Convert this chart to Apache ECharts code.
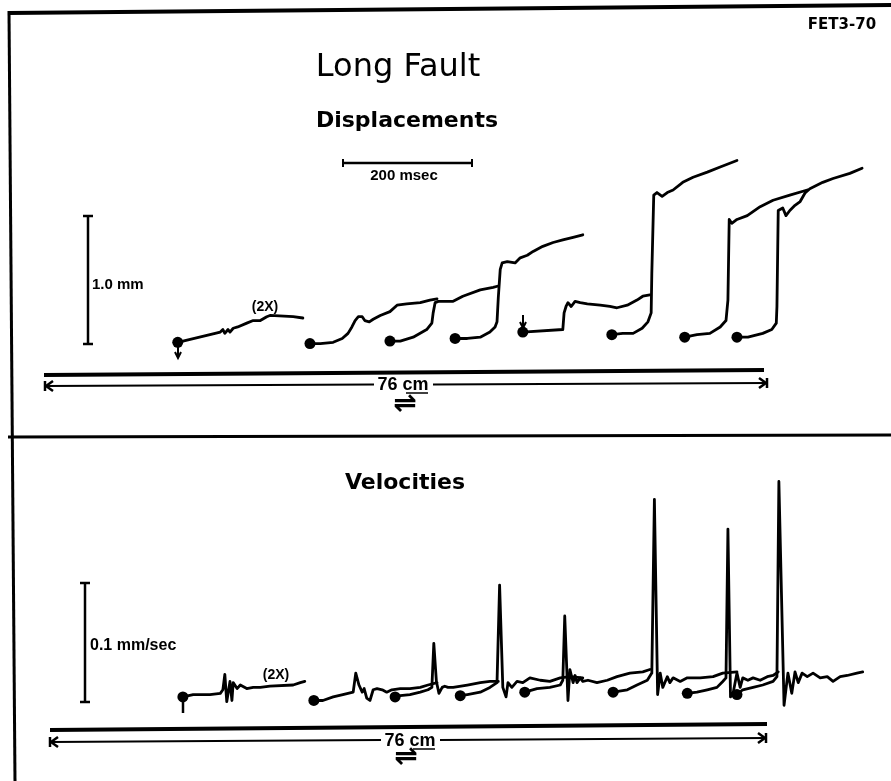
<!DOCTYPE html>
<html>
<head>
    <meta charset="utf-8">
    <title>Long Fault</title>
    <script src="https://cdn.jsdelivr.net/npm/echarts@6/dist/echarts.min.js"></script>
    <style>
        html, body { margin: 0; padding: 0; background: #fff; }
        #chart { width: 891px; height: 781px; }
    </style>
</head>
<body>
<div id="chart"></div>
<script>
    // displacement traces: [time msec, displacement mm]
    var disp1 = [[12,0.06],[78,0.14],[82,0.16],[85,0.13],[90,0.16],[93,0.14],[98,0.17],[105,0.18],[119,0.21],[129,0.23],[140,0.23],[150,0.26],[155,0.27],[191,0.26],[206,0.25]];
    var disp2 = [[217,0.05],[233,0.05],[253,0.06],[267,0.09],[276,0.13],[282,0.18],[287,0.23],[292,0.26],[298,0.26],[302,0.23],[309,0.22],[315,0.24],[326,0.27],[341,0.30],[352,0.35],[367,0.36],[388,0.37],[403,0.39],[414,0.40]];
    var disp3 = [[341,0.07],[357,0.07],[377,0.10],[398,0.16],[406,0.21],[408,0.29],[411,0.37],[416,0.38],[439,0.38],[454,0.42],[481,0.47],[501,0.49],[509,0.50]];
    var disp4 = [[442,0.09],[461,0.09],[481,0.10],[496,0.14],[504,0.18],[507,0.22],[509,0.41],[512,0.63],[515,0.68],[523,0.69],[535,0.68],[543,0.72],[554,0.74],[563,0.77],[578,0.81],[594,0.84],[609,0.86],[625,0.88],[640,0.90]];
    var disp5 = [[547,0.14],[609,0.16],[611,0.29],[614,0.34],[617,0.37],[622,0.34],[628,0.38],[636,0.37],[647,0.36],[667,0.35],[682,0.34],[693,0.33],[709,0.35],[724,0.39],[733,0.42],[744,0.43]];
    var disp6 = [[685,0.12],[702,0.13],[718,0.13],[732,0.17],[741,0.22],[746,0.29],[747,0.60],[750,1.21],[755,1.23],[763,1.20],[771,1.23],[780,1.25],[795,1.31],[811,1.35],[833,1.39],[853,1.43],[879,1.48]];
    var disp7 = [[798,0.10],[817,0.12],[837,0.13],[853,0.18],[862,0.23],[865,0.39],[867,1.02],[871,0.99],[879,1.02],[895,1.05],[915,1.12],[935,1.17],[961,1.21],[988,1.25]];
    var disp8 = [[879,0.10],[896,0.10],[919,0.13],[933,0.16],[940,0.21],[941,0.34],[943,1.09],[950,1.11],[955,1.05],[961,1.09],[969,1.13],[977,1.16],[985,1.23],[992,1.26],[1012,1.31],[1028,1.34],[1054,1.38],[1073,1.42]];

    // velocity traces: [time msec, velocity mm/sec]
    var vel1 = [[20,0.011],[36,0.013],[62,0.013],[78,0.014],[82,0.017],[85,0.030],[88,0.007],[93,0.024],[96,0.008],[98,0.023],[104,0.018],[109,0.021],[119,0.018],[129,0.019],[140,0.019],[155,0.020],[191,0.021],[202,0.023],[209,0.024]];
    var vel2 = [[223,0.008],[237,0.008],[253,0.011],[268,0.013],[284,0.015],[288,0.031],[293,0.021],[298,0.015],[301,0.018],[305,0.010],[310,0.008],[315,0.017],[321,0.018],[329,0.017],[336,0.015],[344,0.017],[357,0.018],[372,0.018],[388,0.019],[400,0.021],[414,0.023]];
    var vel3 = [[349,0.011],[357,0.012],[372,0.013],[388,0.015],[400,0.017],[406,0.019],[409,0.056],[413,0.024],[417,0.014],[422,0.019],[426,0.020],[431,0.019],[439,0.019],[461,0.021],[481,0.023],[496,0.024],[509,0.024]];
    var vel4 = [[450,0.012],[461,0.013],[481,0.015],[496,0.019],[507,0.023],[511,0.105],[516,0.019],[521,0.011],[524,0.023],[530,0.019],[538,0.024],[547,0.023],[558,0.027],[574,0.025],[589,0.024],[605,0.027],[620,0.028],[640,0.027]];
    var vel5 = [[550,0.015],[569,0.018],[589,0.019],[605,0.021],[609,0.025],[612,0.079],[617,0.008],[620,0.034],[625,0.023],[628,0.029],[631,0.023],[636,0.027],[640,0.024],[648,0.025],[662,0.023],[678,0.025],[693,0.028],[713,0.031],[733,0.032],[744,0.034]];
    var vel6 = [[687,0.015],[709,0.017],[724,0.021],[740,0.025],[747,0.031],[751,0.177],[756,0.013],[760,0.031],[764,0.019],[771,0.028],[775,0.023],[780,0.027],[791,0.024],[802,0.027],[822,0.027],[842,0.028],[857,0.031],[879,0.032]];
    var vel7 = [[802,0.014],[817,0.015],[833,0.017],[848,0.019],[857,0.024],[862,0.027],[865,0.152],[869,0.011],[873,0.014],[879,0.031],[884,0.019],[888,0.027],[896,0.025],[904,0.027],[915,0.025],[926,0.028],[935,0.029],[943,0.032]];
    var vel8 = [[879,0.013],[888,0.017],[904,0.019],[919,0.021],[935,0.024],[941,0.028],[944,0.192],[952,0.004],[958,0.031],[964,0.014],[969,0.032],[974,0.023],[980,0.031],[988,0.028],[997,0.031],[1008,0.027],[1019,0.028],[1028,0.024],[1039,0.028],[1050,0.029],[1065,0.031],[1074,0.032]];

    var dispTraces = [disp1, disp2, disp3, disp4, disp5, disp6, disp7, disp8];
    var velTraces = [vel1, vel2, vel3, vel4, vel5, vel6, vel7, vel8];

    var ink = '#000';
    var myChart = echarts.init(document.getElementById('chart'), null, {renderer: 'canvas'});

    function traceSeries(list, idx) {
        var out = [];
        list.forEach(function (trace) {
            out.push({
                type: 'line',
                xAxisIndex: idx,
                yAxisIndex: idx,
                data: trace,
                showSymbol: false,
                clip: false,
                lineStyle: {color: ink, width: 2.8, join: 'round', cap: 'round'}
            });
        });
        // starting dot of every trace
        out.push({
            type: 'scatter',
            xAxisIndex: idx,
            yAxisIndex: idx,
            data: list.map(function (t) { return t[0]; }),
            symbolSize: 11,
            clip: false,
            itemStyle: {color: ink, opacity: 1}
        });
        return out;
    }

    function seg(x1, y1, x2, y2, w) {
        return {type: 'line', shape: {x1: x1, y1: y1, x2: x2, y2: y2}, style: {stroke: ink, lineWidth: w || 2}};
    }
    function poly(pts, w) {
        return {type: 'polyline', shape: {points: pts}, style: {stroke: ink, fill: null, lineWidth: w || 2}};
    }
    function label(txt, x, y, size, weight, family, align) {
        return {
            type: 'text', x: x, y: y,
            style: {
                text: txt, fill: ink, fontSize: size, fontWeight: weight || 'normal',
                fontFamily: family || 'Liberation Sans',
                align: align || 'center', textAlign: align || 'center',
                verticalAlign: 'middle', textVerticalAlign: 'middle'
            }
        };
    }
    // "|<---- 76 cm ---->|" distance marker
    function distance(yL, yR, xL, xR, gapL, gapR) {
        var ym = (yL + yR) / 2;
        return [
            seg(xL, yL, gapL, ym, 2),
            seg(gapR, ym, xR, yR, 2),
            seg(xL, yL - 5, xL, yL + 5, 2.5),
            poly([[xL + 8, yL - 5], [xL + 1, yL], [xL + 8, yL + 5]], 2.5),
            seg(xR, yR - 5, xR, yR + 5, 2.5),
            poly([[xR - 8, yR - 5], [xR - 1, yR], [xR - 8, yR + 5]], 2.5)
        ];
    }

    var graphics = [
        // frame
        seg(8, 13, 891, 5, 4),
        seg(9, 11, 15, 781, 3),
        seg(8, 437, 891, 435, 3),
        label('FET3-70', 842, 25, 15, 'bold', 'DejaVu Sans'),
        label('Long Fault', 398, 68, 32, 'normal', 'DejaVu Sans'),
        label('Displacements', 407, 121, 22, 'bold', 'DejaVu Sans'),
        // 200 msec bar
        seg(343, 163, 472, 163, 2.5),
        seg(343, 159, 343, 167, 2),
        seg(472, 159, 472, 167, 2),
        label('200 msec', 404, 176, 15, 'bold'),
        // 1.0 mm bar
        seg(88, 216, 88, 344, 2.5),
        seg(83, 216, 93, 216, 2.5),
        seg(83, 344, 93, 344, 2.5),
        label('1.0 mm', 92, 285, 15, 'bold', 'Liberation Sans', 'left'),
        label('(2X)', 265, 307, 14, 'bold'),
        // start arrows
        seg(178, 344, 178, 357, 2),
        poly([[175, 352], [178, 358], [181, 352]], 2),
        seg(523, 315, 523, 328, 2),
        poly([[520, 322], [523, 328], [526, 322]], 2),
        // 76 cm, upper panel
        seg(44, 375, 764, 370, 4),
        label('76 cm', 403, 385, 18, 'bold'),
        seg(406, 393, 428, 393, 1.5),
        label('\u21cc', 405, 405, 28, 'bold', 'DejaVu Sans'),
        // lower panel
        label('Velocities', 405, 483, 22, 'bold', 'DejaVu Sans'),
        seg(85, 583, 85, 702, 2.5),
        seg(80, 583, 90, 583, 2.5),
        seg(80, 702, 90, 702, 2.5),
        label('0.1 mm/sec', 90, 646, 16, 'bold', 'Liberation Sans', 'left'),
        label('(2X)', 276, 675, 14, 'bold'),
        seg(183, 699, 183, 713, 2.5),
        seg(50, 730, 767, 724, 4),
        label('76 cm', 410, 741, 18, 'bold'),
        seg(413, 749, 435, 749, 1.5),
        label('\u21cc', 406, 758, 28, 'bold', 'DejaVu Sans')
    ];
    graphics = graphics.concat(distance(386, 383, 45, 767, 374, 433));
    graphics = graphics.concat(distance(742, 738, 50, 766, 381, 440));

    var option = {
        animation: false,
        backgroundColor: '#fff',
        grid: [
            {left: 170, top: 158, width: 709.5, height: 192},
            {left: 170, top: 472, width: 709.5, height: 238}
        ],
        xAxis: [
            {type: 'value', gridIndex: 0, min: 0, max: 1100, show: false},
            {type: 'value', gridIndex: 1, min: 0, max: 1100, show: false}
        ],
        yAxis: [
            {type: 'value', gridIndex: 0, min: 0, max: 1.5, show: false},
            {type: 'value', gridIndex: 1, min: 0, max: 0.2, show: false}
        ],
        graphic: graphics,
        series: traceSeries(dispTraces, 0).concat(traceSeries(velTraces, 1))
    };
    myChart.setOption(option);
</script>
</body>
</html>
